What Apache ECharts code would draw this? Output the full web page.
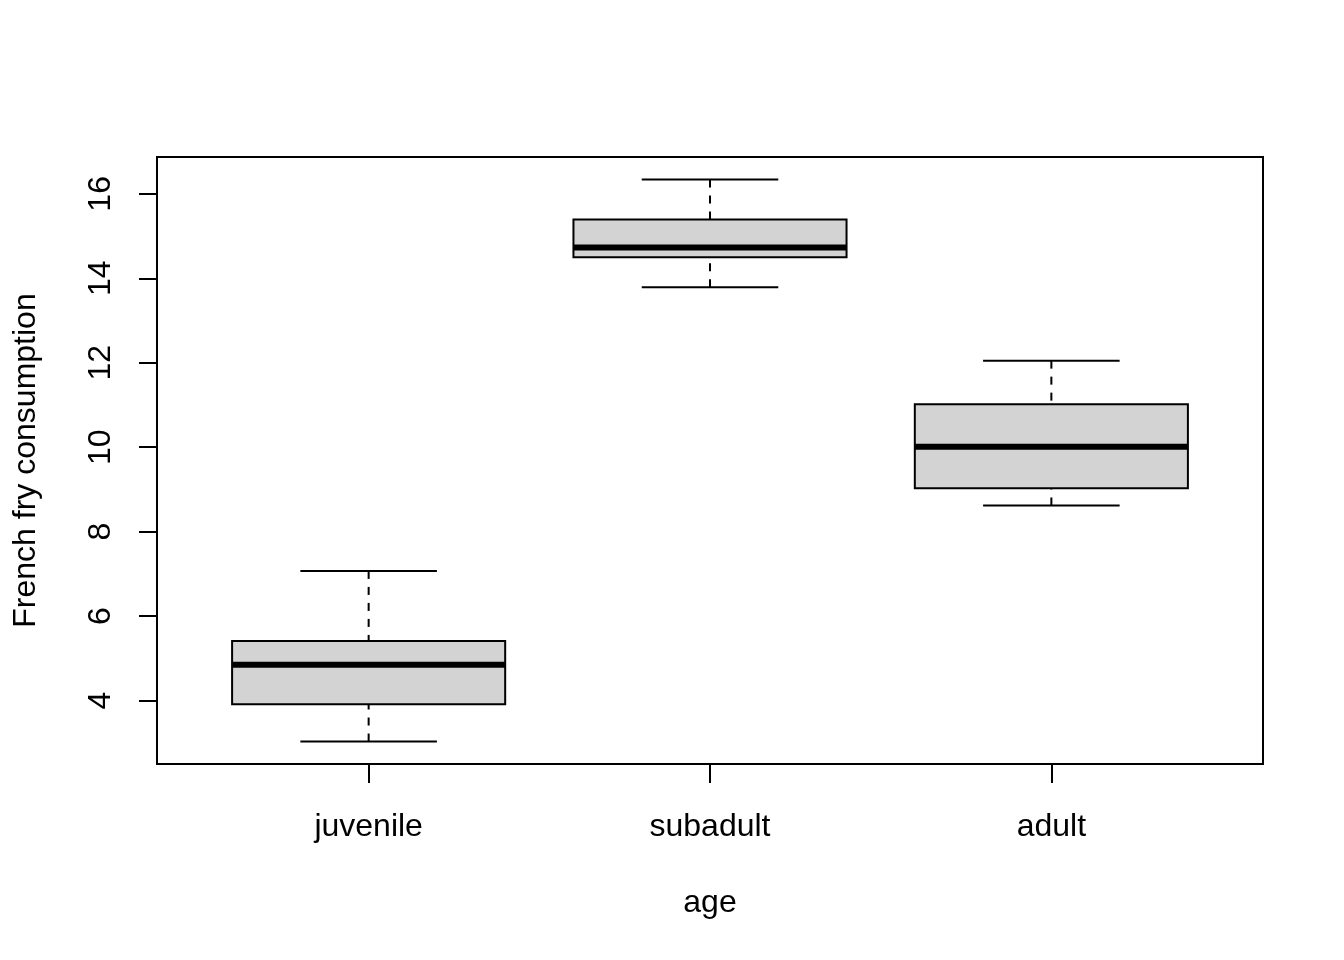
<!DOCTYPE html>
<html>
<head>
<meta charset="utf-8">
<title>French fry consumption by age</title>
<script src="https://cdn.jsdelivr.net/npm/echarts@6.0.0/dist/echarts.min.js"></script>
<style>
    html, body { margin: 0; padding: 0; background: #ffffff; }
    #chart { width: 1344px; height: 960px; }
</style>
</head>
<body>
<div id="chart"></div>
<script>
// ===================================================
//  DATOS
// ===================================================
const categories = ['juvenile', 'subadult', 'adult'];
const lowerWhisker = [3.03, 13.79, 8.62];
const lowerHinge = [3.91, 14.50, 9.03];
const medians = [4.85, 14.73, 10.01];
const upperHinge = [5.41, 15.39, 11.02];
const upperWhisker = [7.07, 16.34, 12.05];
const yTicks = [4, 6, 8, 10, 12, 14, 16];

// ===================================================
//  BOXPLOT estilo R base
// ===================================================
(function () {
    const el = document.getElementById('chart');
    if (!el || typeof echarts === 'undefined') return;

    const chart = echarts.init(el);
    const FONT = "'Liberation Sans', Arial, sans-serif";

    // rango como en R: 4% de extensión
    const lo = Math.min(...lowerWhisker);
    const hi = Math.max(...upperWhisker);
    const pad = (hi - lo) * 0.04;
    const xPad = categories.length * 0.04;

    const data = categories.map((c, i) => [
        i + 1, lowerWhisker[i], lowerHinge[i], medians[i], upperHinge[i], upperWhisker[i]
    ]);

    function renderBox(params, api) {
        const x = api.value(0);
        const halfBox = api.size([0.8, 0])[0] / 2;
        const halfCap = api.size([0.4, 0])[0] / 2;
        const pLo = api.coord([x, api.value(1)]);
        const pQ1 = api.coord([x, api.value(2)]);
        const pMed = api.coord([x, api.value(3)]);
        const pQ3 = api.coord([x, api.value(4)]);
        const pHi = api.coord([x, api.value(5)]);
        const cx = pMed[0];
        const thin = { stroke: '#000', lineWidth: 2 };
        const dashed = { stroke: '#000', lineWidth: 2, lineDash: [8, 8] };

        return {
            type: 'group',
            children: [
                // bigotes punteados
                { type: 'line', shape: { x1: cx, y1: pHi[1], x2: cx, y2: pQ3[1] }, style: dashed },
                { type: 'line', shape: { x1: cx, y1: pLo[1], x2: cx, y2: pQ1[1] }, style: dashed },
                // topes
                { type: 'line', shape: { x1: cx - halfCap, y1: pHi[1], x2: cx + halfCap, y2: pHi[1] }, style: thin },
                { type: 'line', shape: { x1: cx - halfCap, y1: pLo[1], x2: cx + halfCap, y2: pLo[1] }, style: thin },
                // caja
                {
                    type: 'rect',
                    shape: { x: cx - halfBox, y: pQ3[1], width: halfBox * 2, height: pQ1[1] - pQ3[1] },
                    style: { fill: '#d3d3d3', stroke: '#000', lineWidth: 2 }
                },
                // mediana
                {
                    type: 'line',
                    shape: { x1: cx - halfBox, y1: pMed[1], x2: cx + halfBox, y2: pMed[1] },
                    style: { stroke: '#000', lineWidth: 6, lineCap: 'butt' }
                }
            ]
        };
    }

    const option = {
        animation: false,
        backgroundColor: '#ffffff',
        grid: {
            left: 157, right: 81, top: 157, bottom: 196,
            show: true, borderColor: '#000', borderWidth: 2, backgroundColor: 'transparent'
        },
        xAxis: {
            type: 'value',
            min: 1 - 0.5 - xPad,
            max: categories.length + 0.5 + xPad,
            name: 'age',
            nameLocation: 'middle',
            nameGap: 123,
            nameTextStyle: { fontFamily: FONT, fontSize: 32, color: '#000' },
            axisLine: { show: false },
            splitLine: { show: false },
            axisTick: {
                show: true, length: 19, customValues: [1, 2, 3],
                lineStyle: { color: '#000', width: 2 }
            },
            axisLabel: {
                customValues: [1, 2, 3],
                formatter: v => categories[Math.round(v) - 1] || '',
                margin: 47,
                fontFamily: FONT, fontSize: 32, color: '#000'
            }
        },
        yAxis: {
            type: 'value',
            min: lo - pad,
            max: hi + pad,
            name: 'French fry consumption',
            nameLocation: 'middle',
            nameGap: 115,
            nameRotate: 90,
            nameTextStyle: { fontFamily: FONT, fontSize: 32, color: '#000' },
            axisLine: { show: false },
            splitLine: { show: false },
            axisTick: {
                show: true, length: 18, customValues: yTicks,
                lineStyle: { color: '#000', width: 2 }
            },
            axisLabel: {
                customValues: yTicks,
                rotate: 90,
                margin: 40,
                fontFamily: FONT, fontSize: 32, color: '#000'
            }
        },
        series: [{
            type: 'custom',
            renderItem: renderBox,
            data: data,
            encode: { x: 0, y: [1, 2, 3, 4, 5] },
            silent: true
        }]
    };

    chart.setOption(option);
})();
</script>
</body>
</html>
